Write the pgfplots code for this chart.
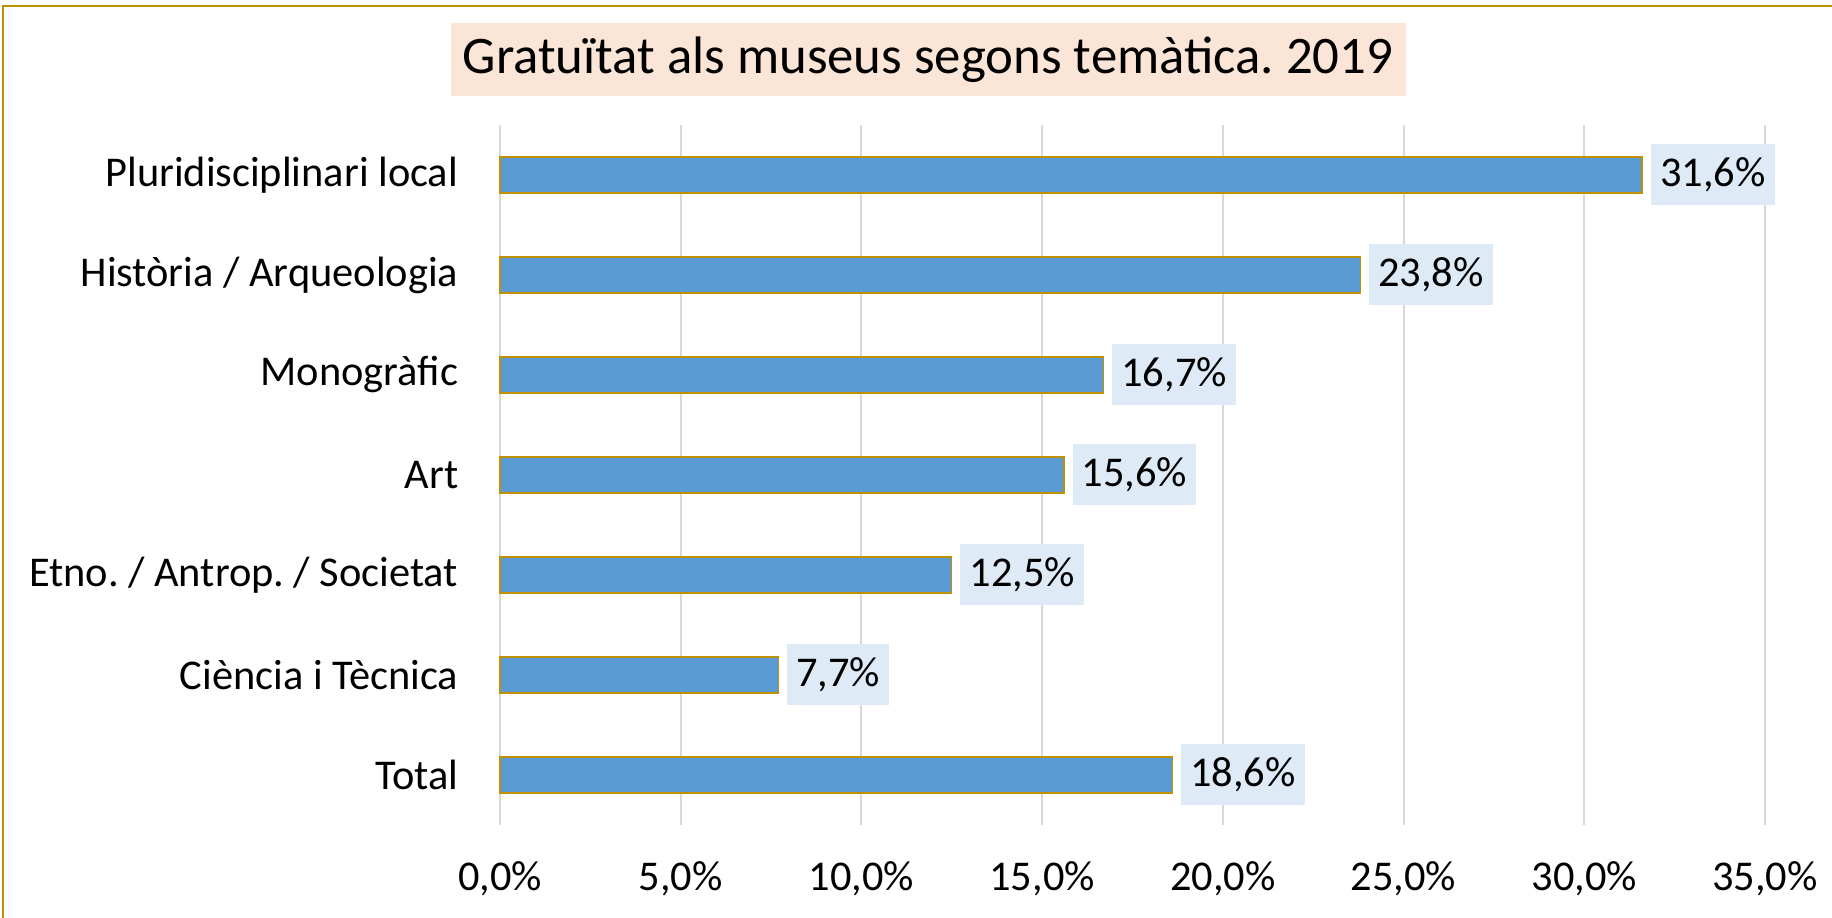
\documentclass[border=0pt]{standalone}
\usepackage{fontspec}
\setmainfont{Carlito}
\usepackage{pgfplots}
\pgfplotsset{compat=1.18}
\definecolor{barblue}{HTML}{5B9BD5}
\definecolor{gold}{HTML}{BF9000}
\definecolor{labelbg}{HTML}{DEEBF7}
\definecolor{titlebg}{HTML}{FBE5D6}
\definecolor{gridgray}{HTML}{D9D9D9}
\frenchspacing
\begin{document}
\frenchspacing
\begin{tikzpicture}
\useasboundingbox (0,0) rectangle (458pt,229.5pt);
\clip (0,0) rectangle (458pt,229.5pt);
\fill[white] (0,0) rectangle (458pt,229.5pt);
\draw[gold, line width=0.5pt] (0.75pt,-5pt) -- (0.75pt,228pt) -- (465pt,228pt);
\node[fill=titlebg, minimum width=238.75pt, minimum height=18.25pt, inner sep=0pt, font=\fontsize{13.2}{15}\selectfont] at (232pt,214.5pt) {Gratuïtat als museus segons temàtica. 2019};
\begin{axis}[
 at={(125pt,23.25pt)}, anchor=south west,
 scale only axis, width=316.25pt, height=175pt,
 xbar, bar width=9pt,
 xmin=0, xmax=35, ymin=-0.5, ymax=6.5,
 xtick={0,5,...,35},
 ytick={0,...,6},
 yticklabels={Total, Ciència i Tècnica, Etno. / Antrop. / Societat, Art, Monogràfic, Història / Arqueologia, Pluridisciplinari local},
 axis line style={draw=none},
 major tick length=0pt,
 xmajorgrids, grid style={gridgray, line width=0.5pt},
 tick label style={font=\fontsize{10.6}{12.7}\selectfont},
 xticklabel={\pgfmathprintnumber[fixed,fixed zerofill,precision=1,use comma,assume math mode=true]{\tick}\%},
 xticklabel style={anchor=center, yshift=-13.5pt},
 yticklabel style={anchor=east, inner sep=0pt, xshift=-10.25pt},
 clip=false,
 point meta=x,
 nodes near coords={\pgfmathprintnumber[fixed,fixed zerofill,precision=1,use comma,assume math mode=true]{\pgfplotspointmeta}\%},
 every node near coord/.append style={anchor=west, xshift=2pt, fill=labelbg, inner xsep=2.3pt, inner ysep=0pt, minimum height=15.25pt, font=\fontsize{10.6}{12.7}\selectfont, text=black},
]
\addplot[fill=barblue, draw=gold, line width=0.35pt] coordinates {
(18.6,0) (7.7,1) (12.5,2) (15.6,3) (16.7,4) (23.8,5) (31.6,6)
};
\end{axis}
\end{tikzpicture}
\end{document}
